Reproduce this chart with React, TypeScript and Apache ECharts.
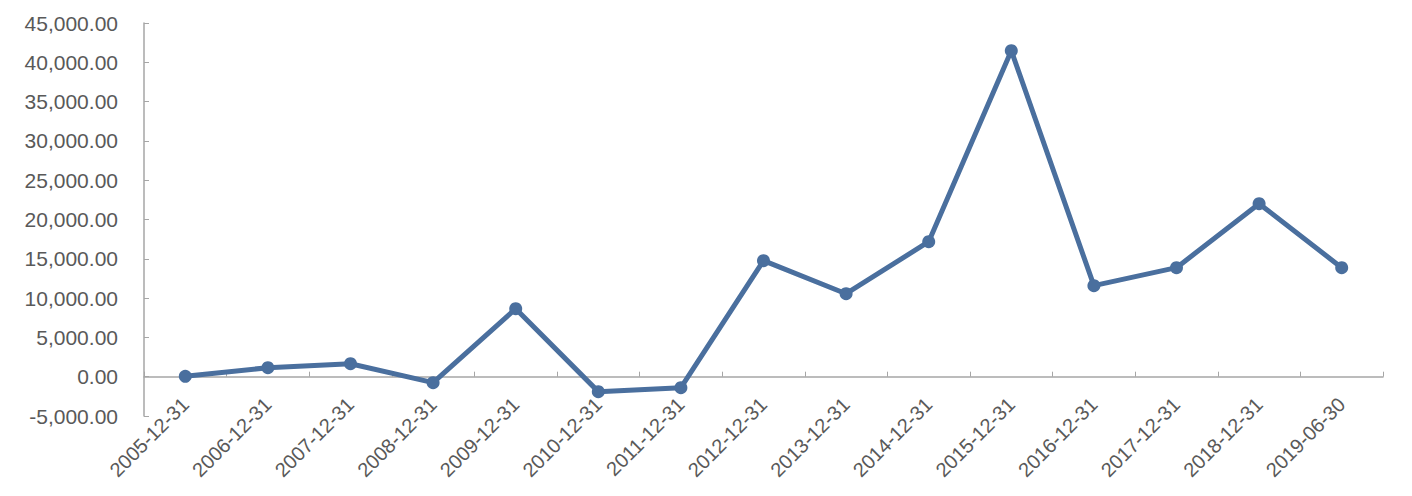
import React, { useEffect, useRef } from "react";
import * as echarts from "echarts";

const categories = [
  "2005-12-31", "2006-12-31", "2007-12-31", "2008-12-31", "2009-12-31",
  "2010-12-31", "2011-12-31", "2012-12-31", "2013-12-31", "2014-12-31",
  "2015-12-31", "2016-12-31", "2017-12-31", "2018-12-31", "2019-06-30",
];
const values = [
  50, 1150, 1650, -760, 8650, -1900, -1400, 14760, 10560, 17180,
  41480, 11580, 13870, 22010, 13870,
];
const yMin = -5000;
const yMax = 45000;
const yInterval = 5000;

export default function App() {
  const ref = useRef<HTMLDivElement>(null);
  useEffect(() => {
    if (!ref.current) return;
    const chart = echarts.init(ref.current, null, { renderer: "svg" });
    const fmt = (v: number) =>
      v.toLocaleString("en-US", { minimumFractionDigits: 2, maximumFractionDigits: 2 });
    chart.setOption({
      animation: false,
      backgroundColor: "#ffffff",
      grid: { left: 144, right: 29, top: 23, bottom: 80, containLabel: false, outerBoundsMode: "none" },
      xAxis: {
        type: "category",
        data: categories,
        boundaryGap: true,
        axisLine: { onZero: true, lineStyle: { color: "#a6a6a6", width: 1.5 } },
        axisTick: { show: true, inside: true, length: 5, alignWithLabel: false, lineStyle: { color: "#a6a6a6" } },
        axisLabel: {
          rotate: 45,
          margin: -15,
          color: "#595959",
          fontSize: 20,
          fontFamily: "Liberation Sans, Arial, sans-serif",
          interval: 0,
        },
        splitLine: { show: false },
      },
      yAxis: {
        type: "value",
        min: yMin,
        max: yMax,
        interval: yInterval,
        axisLine: { show: true, lineStyle: { color: "#a6a6a6", width: 1.5 } },
        axisTick: { show: true, inside: true, length: 5, lineStyle: { color: "#a6a6a6" } },
        axisLabel: {
          formatter: fmt,
          margin: 26,
          color: "#595959",
          fontSize: 21,
          fontFamily: "Liberation Sans, Arial, sans-serif",
        },
        splitLine: { show: false },
      },
      series: [
        {
          type: "line",
          data: values,
          symbol: "circle",
          symbolSize: 13,
          lineStyle: { color: "#4a6f9e", width: 5 },
          itemStyle: { color: "#4a6f9e" },
        },
      ],
    });
    return () => chart.dispose();
  }, []);
  return (
    <div
      ref={ref}
      style={{ position: "fixed", left: 0, top: 0, width: 1412, height: 496, background: "#fff" }}
    />
  );
}
